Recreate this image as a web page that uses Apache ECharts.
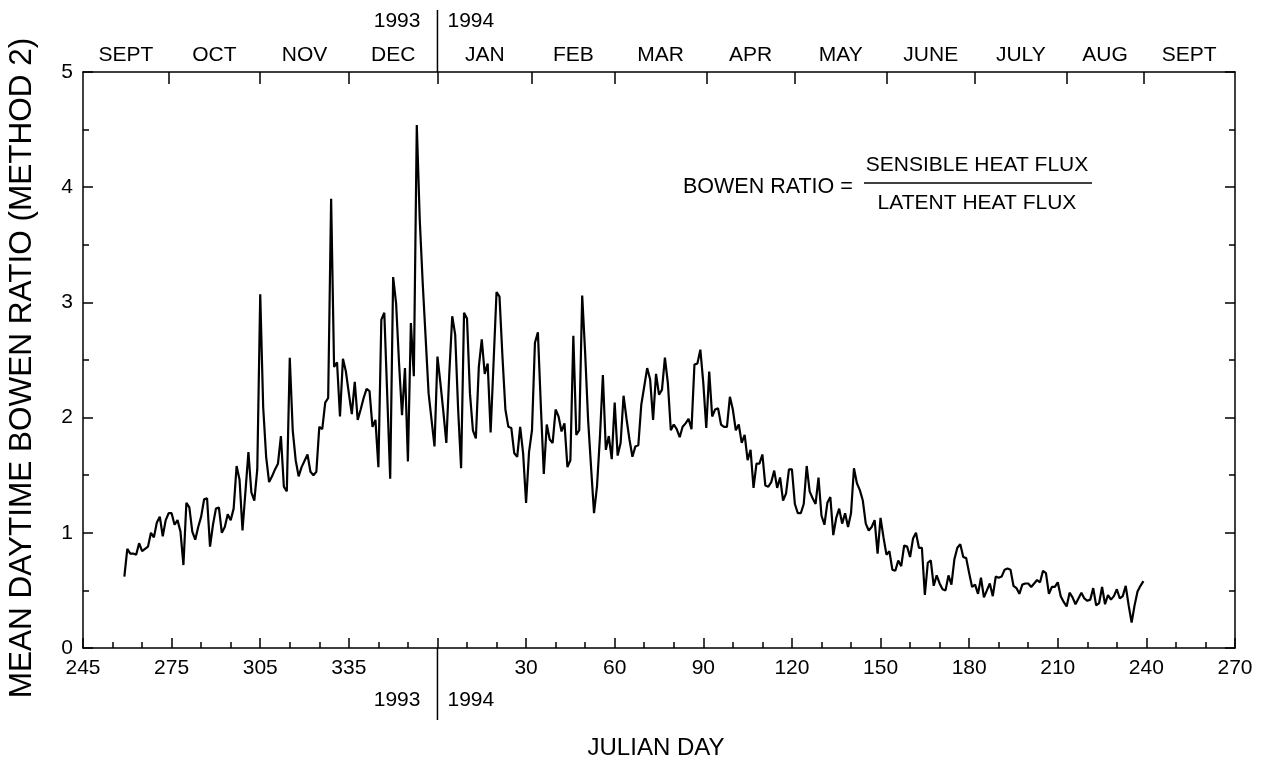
<!DOCTYPE html>
<html><head><meta charset="utf-8">
<script src="https://cdn.jsdelivr.net/npm/echarts@6/dist/echarts.min.js"></script>
<style>html,body{margin:0;padding:0;background:#fff}#c{width:1261px;height:766px}</style>
</head><body><div id="c"></div>
<script>
// Continuous day number: 1993 Julian day; 1994 days are 365 + Julian day
const dayIndex = [
259,260,261,262,263,264,265,267,268,269,270,271,272,273,274,275,276,277,278,279,280,281,282,283,284,285,286,287,288,289,290,291,292,293,294,295,296,297,298,299,301,302,303,
304,305,306,307,308,309,310,311,312,313,314,315,316,317,318,319,321,322,323,324,325,326,327,328,329,330,331,332,333,334,335,336,337,338,339,340,341,342,343,344,345,346,347,
349,350,351,352,353,354,355,356,357,358,359,360,362,363,364,365,366,367,368,369,370,371,372,373,374,375,376,377,378,379,380,381,382,383,385,386,387,388,389,390,391,
392,393,394,395,396,397,398,399,400,401,402,403,404,405,406,407,408,409,410,411,412,413,414,415,416,417,418,419,420,421,422,423,424,425,426,427,428,429,430,431,432,433,
434,435,436,437,438,439,440,441,442,443,444,445,446,447,448,449,450,451,452,453,454,455,456,457,458,459,460,461,462,463,464,465,466,467,468,469,470,471,472,473,474,475,476,477,478,479,
480,481,482,483,484,485,486,487,488,489,490,491,492,493,494,495,496,497,498,499,500,501,502,503,504,505,506,507,508,509,510,511,512,513,514,515,516,517,518,519,520,
521,522,523,524,525,526,527,528,529,530,531,532,533,534,535,536,537,538,539,540,541,542,543,544,545,546,547,548,549,550,551,552,553,554,555,556,557,558,559,560,561,562,563,564,
565,566,567,568,569,570,571,572,573,574,575,576,577,578,579,580,581,582,583,584,585,586,587,588,589,590,591,592,593,594,595,596,597,598,599,600,601,602,603,604
];
const bowenRatio = [
0.62,0.86,0.82,0.82,0.81,0.91,0.84,0.88,1.00,0.96,1.09,1.14,0.97,1.11,1.17,1.17,1.07,1.11,1.01,0.72,1.26,1.22,1.01,0.94,1.05,1.14,1.29,1.30,0.88,1.07,1.21,1.22,1.00,1.05,1.16,1.11,1.21,1.58,1.46,1.02,1.70,1.35,1.28,
1.55,3.07,2.09,1.66,1.44,1.49,1.55,1.60,1.84,1.40,1.36,2.52,1.89,1.63,1.49,1.57,1.68,1.53,1.50,1.53,1.92,1.90,2.13,2.17,3.90,2.44,2.48,2.01,2.51,2.40,2.21,2.03,2.31,1.98,2.07,2.17,2.25,2.23,1.92,1.98,1.57,2.85,2.91,
1.47,3.22,2.99,2.47,2.02,2.43,1.62,2.82,2.36,4.54,3.72,3.17,2.21,1.98,1.75,2.53,2.30,2.05,1.78,2.38,2.88,2.72,2.07,1.56,2.91,2.86,2.21,1.89,1.82,2.44,2.68,2.38,2.47,1.87,3.09,3.05,2.53,2.07,1.92,1.91,1.69,
1.66,1.92,1.69,1.26,1.70,1.89,2.65,2.74,2.10,1.51,1.94,1.81,1.78,2.07,2.01,1.88,1.95,1.57,1.63,2.71,1.85,1.89,3.06,2.56,1.98,1.57,1.17,1.40,1.83,2.37,1.72,1.84,1.64,2.13,1.67,1.78,2.19,1.99,1.81,1.66,1.75,1.76,
2.11,2.27,2.43,2.33,1.98,2.38,2.20,2.24,2.52,2.30,1.89,1.94,1.90,1.83,1.92,1.95,1.99,1.90,2.46,2.47,2.59,2.30,1.91,2.40,2.01,2.07,2.08,1.94,1.92,1.92,2.18,2.07,1.89,1.94,1.78,1.85,1.63,1.72,1.39,1.60,1.60,1.68,1.41,1.40,1.44,1.54,
1.39,1.48,1.28,1.34,1.55,1.55,1.25,1.17,1.17,1.25,1.58,1.36,1.30,1.25,1.48,1.15,1.07,1.26,1.31,0.98,1.13,1.21,1.08,1.17,1.05,1.17,1.56,1.43,1.37,1.28,1.08,1.02,1.05,1.11,0.82,1.13,0.96,0.81,0.84,0.68,0.67,
0.76,0.71,0.89,0.88,0.79,0.95,1.00,0.87,0.87,0.46,0.74,0.76,0.54,0.63,0.56,0.51,0.50,0.63,0.55,0.77,0.87,0.90,0.79,0.78,0.65,0.53,0.55,0.47,0.61,0.44,0.50,0.56,0.45,0.62,0.61,0.62,0.68,0.69,0.68,0.54,0.52,0.47,0.55,0.56,
0.56,0.53,0.56,0.59,0.57,0.67,0.65,0.47,0.53,0.53,0.57,0.45,0.40,0.36,0.48,0.44,0.38,0.43,0.48,0.43,0.41,0.42,0.52,0.37,0.39,0.53,0.38,0.46,0.42,0.45,0.51,0.43,0.45,0.54,0.37,0.22,0.37,0.49,0.54,0.58
];
const monthNames = ['SEPT','OCT','NOV','DEC','JAN','FEB','MAR','APR','MAY','JUNE','JULY','AUG','SEPT'];
const monthStarts = [244,274,305,335,365,397,425,456,486,517,547,578,604];
const axisStart = 245, axisEnd = 635, yearBreak = 365;
const yearLabels = ['1993','1994'];
const yTitle = 'MEAN DAYTIME BOWEN RATIO (METHOD 2)';
const xTitle = 'JULIAN DAY';
const formulaLeft = 'BOWEN RATIO =';
const formulaTop = 'SENSIBLE HEAT FLUX';
const formulaBottom = 'LATENT HEAT FLUX';

const FONT = '"Liberation Sans", Arial, sans-serif';
const FS = 21;
const black = '#000';

const seriesData = dayIndex.map((d, i) => [d, bowenRatio[i]]);
const monthTicks = monthStarts.filter(d => d > axisStart && d < axisEnd);
const bounds = monthStarts.map(d => Math.max(d, axisStart)).concat([axisEnd]);
const monthMids = monthNames.map((n, i) => (bounds[i] + bounds[i + 1]) / 2);
const midToName = {};
monthMids.forEach((m, i) => { midToName[m] = monthNames[i]; });

const chart = echarts.init(document.getElementById('c'), null, {renderer: 'canvas'});
const lineSt = {color: black, width: 1.5};
chart.setOption({
  animation: false,
  backgroundColor: '#fff',
  textStyle: {fontFamily: FONT},
  grid: {left: 83, right: 26, top: 72, bottom: 118, show: false},
  xAxis: [{
    type: 'value', position: 'bottom', min: axisStart, max: axisEnd, interval: 30,
    axisLine: {onZero: false, lineStyle: lineSt},
    axisTick: {inside: true, length: 10, lineStyle: lineSt},
    minorTick: {show: true, splitNumber: 3, length: 6, lineStyle: lineSt},
    splitLine: {show: false},
    axisLabel: {color: black, fontSize: FS, fontFamily: FONT, margin: 10,
      formatter: v => v === yearBreak ? '' : String(v > yearBreak ? v - yearBreak : v)}
  }, {
    type: 'value', position: 'top', min: axisStart, max: axisEnd,
    axisLine: {onZero: false, lineStyle: lineSt},
    axisTick: {inside: true, length: 12, lineStyle: lineSt, customValues: monthTicks},
    splitLine: {show: false},
    axisLabel: {color: black, fontSize: FS, fontFamily: FONT, margin: 6, customValues: monthMids,
      formatter: v => midToName[v] || ''}
  }],
  yAxis: [{
    type: 'value', position: 'left', min: 0, max: 5, interval: 1,
    axisLine: {show: true, onZero: false, lineStyle: lineSt},
    axisTick: {show: true, inside: true, length: 10, lineStyle: lineSt},
    minorTick: {show: true, splitNumber: 2, length: 6, lineStyle: lineSt},
    splitLine: {show: false},
    axisLabel: {color: black, fontSize: FS, fontFamily: FONT, margin: 10}
  }, {
    type: 'value', position: 'right', min: 0, max: 5, interval: 1,
    axisLine: {show: true, onZero: false, lineStyle: lineSt},
    axisTick: {show: true, inside: true, length: 10, lineStyle: lineSt},
    minorTick: {show: true, splitNumber: 2, length: 6, lineStyle: lineSt},
    splitLine: {show: false},
    axisLabel: {show: false}
  }],
  series: [{
    type: 'line', xAxisIndex: 0, yAxisIndex: 0, data: seriesData,
    showSymbol: false, symbol: 'none', lineStyle: {color: black, width: 2.2}, z: 3
  }]
});

const bx = chart.convertToPixel({xAxisIndex: 0}, yearBreak);
const yTop = chart.convertToPixel({yAxisIndex: 0}, 5);
const yBot = chart.convertToPixel({yAxisIndex: 0}, 0);
const txt = (text, x, y, align, fs) => ({type: 'text', x: x, y: y, silent: true,
  style: {text: text, fill: black, fontSize: fs || FS, fontFamily: FONT, align: align, verticalAlign: 'middle'}});
const yt = txt(yTitle, 22, 368, 'center', 31.5);
yt.rotation = Math.PI / 2;
chart.setOption({graphic: [
  {type: 'line', shape: {x1: bx, y1: 10, x2: bx, y2: yTop}, style: {stroke: black, lineWidth: 1.5}},
  {type: 'line', shape: {x1: bx, y1: yBot, x2: bx, y2: 720}, style: {stroke: black, lineWidth: 1.5}},
  txt(yearLabels[0], bx - 17, 21, 'right'),
  txt(yearLabels[1], bx + 10, 21, 'left'),
  txt(yearLabels[0], bx - 17, 700, 'right'),
  txt(yearLabels[1], bx + 10, 700, 'left'),
  yt,
  txt(xTitle, 656, 748, 'center', 24),
  txt(formulaLeft, 683, 187, 'left', 21.5),
  {type: 'line', shape: {x1: 864, y1: 183, x2: 1092, y2: 183}, style: {stroke: black, lineWidth: 1.5}},
  txt(formulaTop, 977, 165, 'center', 21),
  txt(formulaBottom, 977, 203, 'center', 21)
]});
</script></body></html>
